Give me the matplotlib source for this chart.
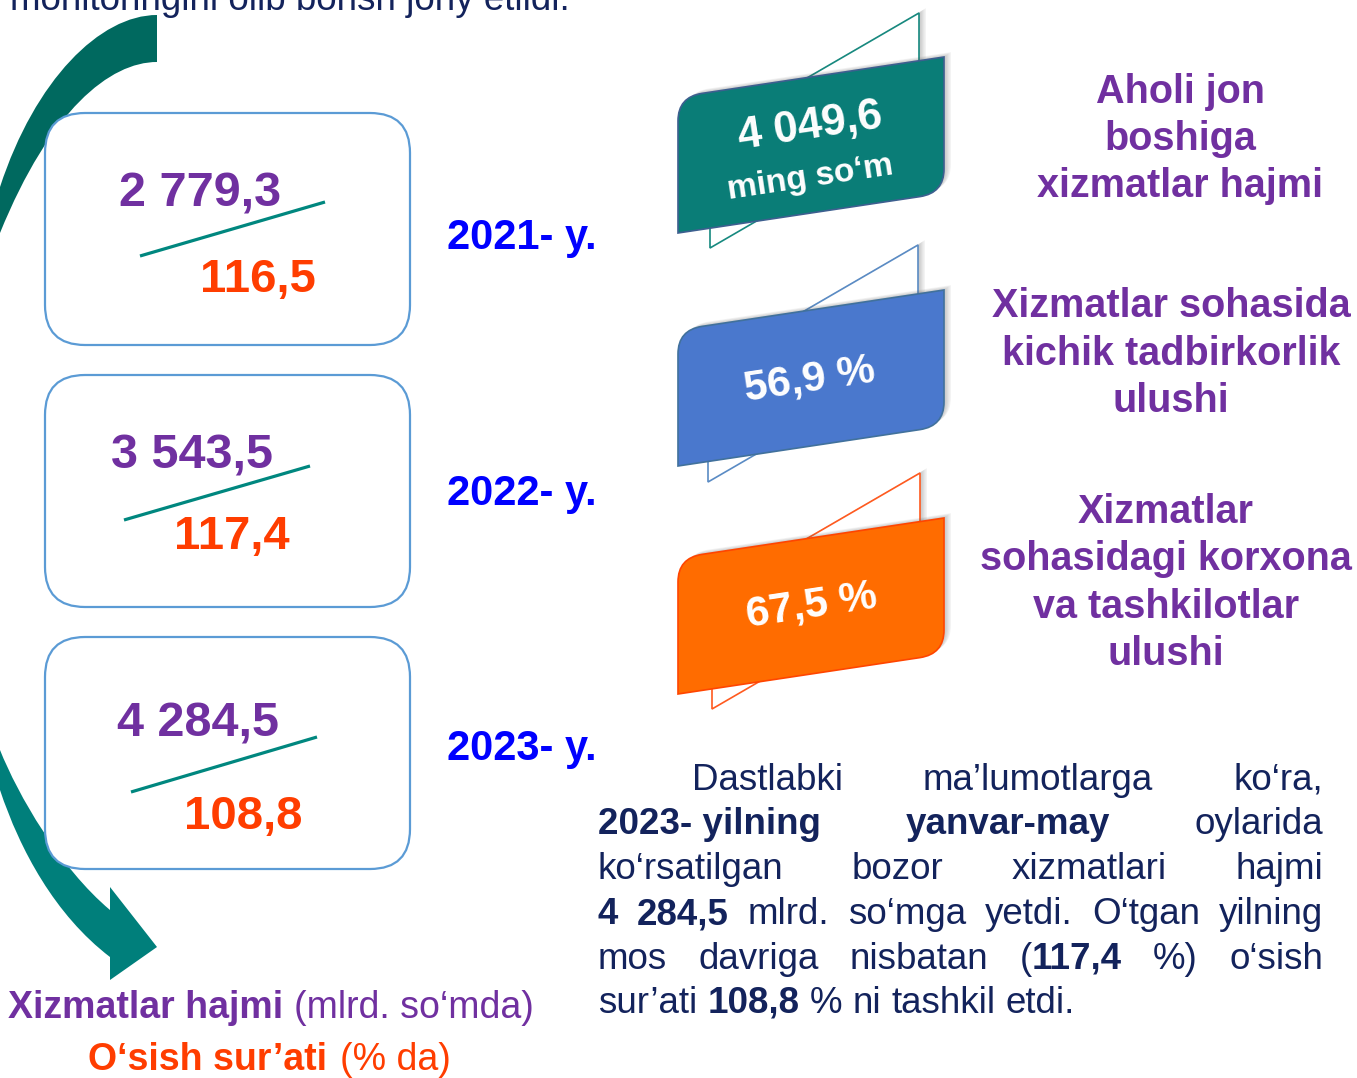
import matplotlib
matplotlib.use('Agg')
import matplotlib.pyplot as plt
from matplotlib.path import Path
from matplotlib.patches import PathPatch, FancyBboxPatch, Polygon
import matplotlib.patheffects as pe

plt.rcParams['font.family'] = ['Liberation Sans', 'DejaVu Sans']

# ── data ──────────────────────────────────────────────────────────────
years = [2021, 2022, 2023]
volume = [2779.3, 3543.5, 4284.5]      # xizmatlar hajmi, mlrd. so'm
growth = [116.5, 117.4, 108.8]         # o'sish sur'ati, %

banner_values = [4049.6, 56.9, 67.5]
banner_units = ['ming so‘m', '%', '%']
banner_titles = [
    ['Aholi jon', 'boshiga', 'xizmatlar hajmi'],
    ['Xizmatlar sohasida', 'kichik tadbirkorlik', 'ulushi'],
    ['Xizmatlar', 'sohasidagi korxona', 'va tashkilotlar', 'ulushi'],
]

top_line = 'monitoringini olib borish joriy etildi.'

# paragraph: each line = list of words, each word = list of (text, bold)
para_lines = [
    [[('Dastlabki', 0)], [('ma’lumotlarga', 0)], [('ko‘ra,', 0)]],
    [[('2023- yilning', 1)], [('yanvar-may', 1)], [('oylarida', 0)]],
    [[('ko‘rsatilgan', 0)], [('bozor', 0)], [('xizmatlari', 0)], [('hajmi', 0)]],
    [[('4', 1)], [('284,5', 1)], [('mlrd.', 0)], [('so‘mga', 0)], [('yetdi.', 0)],
     [('O‘tgan', 0)], [('yilning', 0)]],
    [[('mos', 0)], [('davriga', 0)], [('nisbatan', 0)], [('(', 0), ('117,4', 1)],
     [('%)', 0)], [('o‘sish', 0)]],
    [[('sur’ati', 0)], [('108,8', 1)], [('%', 0)], [('ni', 0)], [('tashkil', 0)], [('etdi.', 0)]],
]

# ── colours ───────────────────────────────────────────────────────────
PURPLE = '#7030a0'
RED = '#ff3d00'
BLUE = '#0000ff'
NAVY = '#13235c'
BOX_EDGE = '#5b9bd5'
LINE_TEAL = '#00877f'
banner_fill = ['#0a7d77', '#4a78cd', '#ff6c00']
banner_edge = ['#3d5f8f', '#41719c', '#ff4500']
back_edge = ['#17897f', '#5a8bc4', '#ff5a1f']


def fmt(v):
    return f'{v:,.1f}'.replace(',', ' ').replace('.', ',')


fig = plt.figure(figsize=(13.57, 10.78), dpi=100)
ax = fig.add_axes([0, 0, 1, 1])
ax.set_xlim(0, 1357)
ax.set_ylim(1078, 0)
ax.axis('off')

# ── curved arrow (drawn first, boxes cover it) ────────────────────────
up = Path([(157, 15), (100, 15), (35, 80), (0, 187), (-25, 240), (0, 233),
           (50, 110), (110, 62), (157, 62), (157, 15)],
          [Path.MOVETO, Path.CURVE4, Path.CURVE4, Path.CURVE4, Path.LINETO, Path.LINETO,
           Path.CURVE4, Path.CURVE4, Path.CURVE4, Path.CLOSEPOLY])
ax.add_patch(PathPatch(up, fc='#00695f', ec='none', zorder=1))

low = Path([(-25, 700), (0, 750), (18, 795), (60, 868), (110, 910),
            (110, 887), (157, 947), (110, 980), (110, 957),
            (55, 915), (20, 850), (0, 790), (-25, 740), (-25, 700)],
           [Path.MOVETO, Path.LINETO, Path.CURVE4, Path.CURVE4, Path.CURVE4,
            Path.LINETO, Path.LINETO, Path.LINETO, Path.LINETO,
            Path.CURVE4, Path.CURVE4, Path.CURVE4, Path.LINETO, Path.CLOSEPOLY])
ax.add_patch(PathPatch(low, fc='#007f7b', ec='none', zorder=1))

# ── left boxes ────────────────────────────────────────────────────────
box_top = [113, 375, 637]
vol_xy = [(200, 207), (192, 469), (198, 737)]
gr_xy = [(258, 292), (232, 549), (243, 829)]
slash = [((140, 256), (325, 202)), ((124, 520), (310, 466)), ((131, 792), (317, 737))]
year_base = [249, 505, 760]

for i in range(3):
    ax.add_patch(FancyBboxPatch((45, box_top[i]), 365, 232,
                                boxstyle='round,pad=0,rounding_size=40',
                                fc='white', ec=BOX_EDGE, lw=1.6, zorder=2))
    (x0, y0), (x1, y1) = slash[i]
    ax.plot([x0, x1], [y0, y1], color=LINE_TEAL, lw=2.3, zorder=3, solid_capstyle='butt')
    ax.text(*vol_xy[i], fmt(volume[i]), color=PURPLE, fontsize=35, fontweight='bold',
            ha='center', va='baseline', zorder=4)
    ax.text(*gr_xy[i], fmt(growth[i]), color=RED, fontsize=34, fontweight='bold',
            ha='center', va='baseline', zorder=4)
    ax.text(447, year_base[i], f'{years[i]}- y.', color=BLUE, fontsize=30,
            fontweight='bold', ha='left', va='baseline', zorder=4)

# ── banners ───────────────────────────────────────────────────────────
L, R, H, D, RAD = 678, 944, 136, 40, 24
banner_top = [97, 330, 558]
back_pts = [(710, 919, 13, 248), (708, 918, 245, 482), (712, 920, 473, 709)]
# soft shadow built from a few faint offset copies
shadow = [pe.SimplePatchShadow(offset=(o, o * 0.7), shadow_rgbFace='#555555', alpha=0.07)
          for o in (1, 2, 3, 4, 5)] + [pe.Normal()]

for i in range(3):
    bl, br, tr, blb = back_pts[i]
    k = 0.58 * (br - bl)
    back = Polygon([(bl, tr + k), (br, tr), (br, blb - k), (bl, blb)], closed=True,
                   fc='white', ec=back_edge[i], lw=1.2, zorder=2, path_effects=shadow)
    ax.add_patch(back)

    T = banner_top[i]
    W = R - L
    s = D / W
    B_l = T + H
    B_r = T - D + H
    verts = [(L, B_l), (L, T + RAD), (L, T), (L + RAD, T - s * RAD), (R, T - D),
             (R, B_r - RAD), (R, B_r), (R - RAD, B_r + s * RAD), (L, B_l), (L, B_l)]
    codes = [Path.MOVETO, Path.LINETO, Path.CURVE3, Path.CURVE3, Path.LINETO,
             Path.LINETO, Path.CURVE3, Path.CURVE3, Path.LINETO, Path.CLOSEPOLY]
    ax.add_patch(PathPatch(Path(verts, codes), fc=banner_fill[i], ec=banner_edge[i],
                           lw=1.2, zorder=3, path_effects=shadow))

ang = 8.6
ax.text(810, 127, fmt(banner_values[0]), color='white', fontsize=31.5, fontweight='bold',
        ha='center', va='center', rotation=ang, rotation_mode='anchor', zorder=5)
ax.text(810, 178, banner_units[0], color='white', fontsize=24, fontweight='bold',
        ha='center', va='center', rotation=ang, rotation_mode='anchor', zorder=5)
ax.text(810, 380, f'{fmt(banner_values[1])} {banner_units[1]}', color='white', fontsize=30.5,
        fontweight='bold', ha='center', va='center', rotation=ang, rotation_mode='anchor', zorder=5)
ax.text(812, 606, f'{fmt(banner_values[2])} {banner_units[2]}', color='white', fontsize=30.5,
        fontweight='bold', ha='center', va='center', rotation=ang, rotation_mode='anchor', zorder=5)

# ── right titles ──────────────────────────────────────────────────────
title_x = [1180, 1171, 1166]
title_base = [[103, 150, 197], [317, 365, 412], [523, 570, 618, 665]]
for i, lines in enumerate(banner_titles):
    for line, yb in zip(lines, title_base[i]):
        ax.text(title_x[i], yb, line, color=PURPLE, fontsize=28.5, fontweight='bold',
                ha='center', va='baseline')

# ── top text (cut by the top edge, as in the source) and legend ──────
ax.text(10, 10, top_line, color=NAVY, fontsize=26.5, ha='left', va='baseline')

ax.text(283, 1018, 'Xizmatlar hajmi', color=PURPLE, fontsize=27, fontweight='bold',
        ha='right', va='baseline')
ax.text(294, 1018, '(mlrd. so‘mda)', color=PURPLE, fontsize=27, ha='left', va='baseline')
ax.text(327, 1070, 'O‘sish sur’ati', color=RED, fontsize=27, fontweight='bold',
        ha='right', va='baseline')
ax.text(340, 1070, '(% da)', color=RED, fontsize=27, ha='left', va='baseline')

# ── justified paragraph ───────────────────────────────────────────────
renderer = fig.canvas.get_renderer()
PFS = 26.5
para_base = [790, 834, 879, 924, 969, 1013]
x_left, x_right, indent = 598, 1323, 692


def seg_width(txt, bold):
    t = ax.text(0, 0, txt, fontsize=PFS, fontweight='bold' if bold else 'normal')
    w = t.get_window_extent(renderer).width
    t.remove()
    return w


space_w = seg_width('a a', 0) - seg_width('aa', 0)

for li, (words, yb) in enumerate(zip(para_lines, para_base)):
    start = indent if li == 0 else x_left
    widths = [[seg_width(t, b) for t, b in w] for w in words]
    totals = [sum(w) for w in widths]
    last = li == len(para_lines) - 1
    gap = space_w if last else (x_right - start - sum(totals)) / (len(words) - 1)
    x = start
    for w, ws in zip(words, widths):
        for (t, b), sw in zip(w, ws):
            ax.text(x, yb, t, fontsize=PFS, fontweight='bold' if b else 'normal',
                    color=NAVY, ha='left', va='baseline')
            x += sw
        x += gap

fig.savefig('out.png', dpi=100, facecolor='white')
